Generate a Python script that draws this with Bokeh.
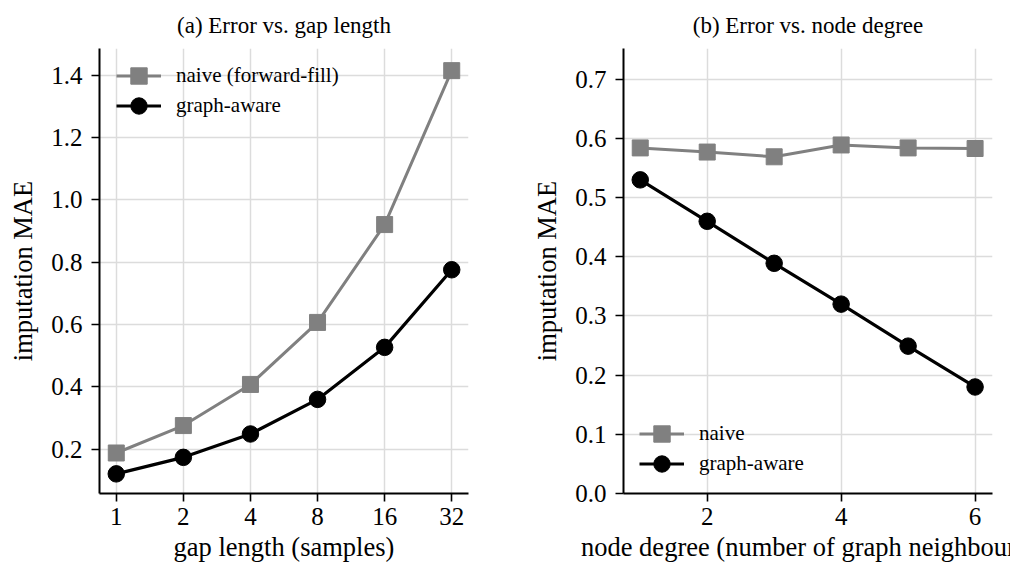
from bokeh.plotting import figure
from bokeh.layouts import row
from bokeh.models import Range1d, FixedTicker, PrintfTickFormatter, Legend, LegendItem
from bokeh.embed import file_html
from bokeh.resources import INLINE

# ---- data ----
gap_lengths = [1, 2, 4, 8, 16, 32]
gap_naive = [0.188, 0.276, 0.408, 0.607, 0.921, 1.415]
gap_graph = [0.121, 0.174, 0.249, 0.360, 0.527, 0.776]

node_degrees = [1, 2, 3, 4, 5, 6]
deg_naive = [0.584, 0.577, 0.569, 0.589, 0.584, 0.583]
deg_graph = [0.530, 0.460, 0.389, 0.320, 0.249, 0.180]

gap_xticks = [1, 2, 4, 8, 16, 32]
gap_yticks = [0.2, 0.4, 0.6, 0.8, 1.0, 1.2, 1.4]
deg_xticks = [2, 4, 6]
deg_yticks = [0.0, 0.1, 0.2, 0.3, 0.4, 0.5, 0.6, 0.7]

titles = ["(a) Error vs. gap length", "(b) Error vs. node degree"]
xlabels = ["gap length (samples)", "node degree (number of graph neighbours)"]
ylabel = "imputation MAE"
names_a = ["naive (forward-fill)", "graph-aware"]
names_b = ["naive", "graph-aware"]

FONT = "'Liberation Serif', serif"
GRAY = "#808080"
BLACK = "#000000"
GRID = "#dcdcdc"


def style(p, title, xlab, xticks, yticks, xfmt, yfmt):
    p.outline_line_color = None
    p.background_fill_color = "white"
    p.title.text = title
    p.title.align = "center"
    p.title.text_font = FONT
    p.title.text_font_style = "normal"
    p.title.text_font_size = "23px"
    p.title.text_color = BLACK
    p.title.standoff = 21
    for ax in (p.xaxis[0], p.yaxis[0]):
        ax.axis_line_width = 2
        ax.axis_line_color = BLACK
        ax.major_tick_in = 0
        ax.major_tick_out = 8
        ax.major_tick_line_width = 1.6
        ax.major_tick_line_color = BLACK
        ax.minor_tick_in = 0
        ax.minor_tick_out = 0
        ax.major_label_text_font = FONT
        ax.major_label_text_font_size = "25px"
        ax.major_label_text_color = BLACK
        ax.axis_label_text_font = FONT
        ax.axis_label_text_font_style = "normal"
        ax.axis_label_text_font_size = "26.5px"
        ax.axis_label_text_color = BLACK
    p.xaxis[0].ticker = FixedTicker(ticks=xticks)
    p.yaxis[0].ticker = FixedTicker(ticks=yticks)
    p.xaxis[0].formatter = PrintfTickFormatter(format=xfmt)
    p.yaxis[0].formatter = PrintfTickFormatter(format=yfmt)
    p.xaxis[0].axis_label = xlab
    p.yaxis[0].axis_label = ylabel
    p.xaxis[0].major_label_standoff = 6
    p.yaxis[0].major_label_standoff = 9
    p.xaxis[0].axis_label_standoff = 4
    p.yaxis[0].axis_label_standoff = 10
    p.xgrid[0].ticker = FixedTicker(ticks=xticks)
    p.ygrid[0].ticker = FixedTicker(ticks=yticks)
    for g in (p.xgrid[0], p.ygrid[0]):
        g.grid_line_color = GRID
        g.grid_line_width = 1.5


def series(p, x, y, color, marker, msize, lw):
    ln = p.line(x, y, line_color=color, line_width=lw, line_join="round")
    sc = p.scatter(x, y, marker=marker, size=msize, fill_color=color, line_color=color)
    return [ln, sc]


def add_legend_item(p, label, renderers, loc):
    leg = Legend(items=[LegendItem(label=label, renderers=renderers)],
                 location=loc, glyph_width=45, glyph_height=41,
                 label_standoff=15, label_text_font=FONT, label_text_font_size="21px",
                 label_text_color=BLACK, background_fill_alpha=0, border_line_alpha=0,
                 padding=0, margin=0)
    p.add_layout(leg)


# ---- panel (a) ----
pa = figure(width=500, height=569, x_axis_type="log",
            x_range=Range1d(2 ** -0.25, 2 ** 5.25), y_range=Range1d(0.058, 1.486),
            output_backend="svg", toolbar_location=None,
            min_border_left=99, min_border_right=32, min_border_top=48, min_border_bottom=76)
style(pa, titles[0], xlabels[0], gap_xticks, gap_yticks, "%d", "%.1f")
ra1 = series(pa, gap_lengths, gap_naive, GRAY, "square", 16, 3)
ra2 = series(pa, gap_lengths, gap_graph, BLACK, "circle", 16.5, 3.2)
add_legend_item(pa, names_a[0], ra1, (17, 397))
add_legend_item(pa, names_a[1], ra2, (17, 367))

# ---- panel (b) ----
pb = figure(width=510, height=569,
            x_range=Range1d(0.75, 6.26), y_range=Range1d(0.0, 0.752),
            output_backend="svg", toolbar_location=None,
            min_border_left=123, min_border_right=18, min_border_top=48, min_border_bottom=76)
style(pb, titles[1], xlabels[1], deg_xticks, deg_yticks, "%d", "%.1f")
rb1 = series(pb, node_degrees, deg_naive, GRAY, "square", 16, 3)
rb2 = series(pb, node_degrees, deg_graph, BLACK, "circle", 16.5, 3.2)
add_legend_item(pb, names_b[0], rb1, (16, 39))
add_legend_item(pb, names_b[1], rb2, (16, 9))

layout = row(pa, pb)
open("out.html", "w").write(file_html(layout, INLINE))
